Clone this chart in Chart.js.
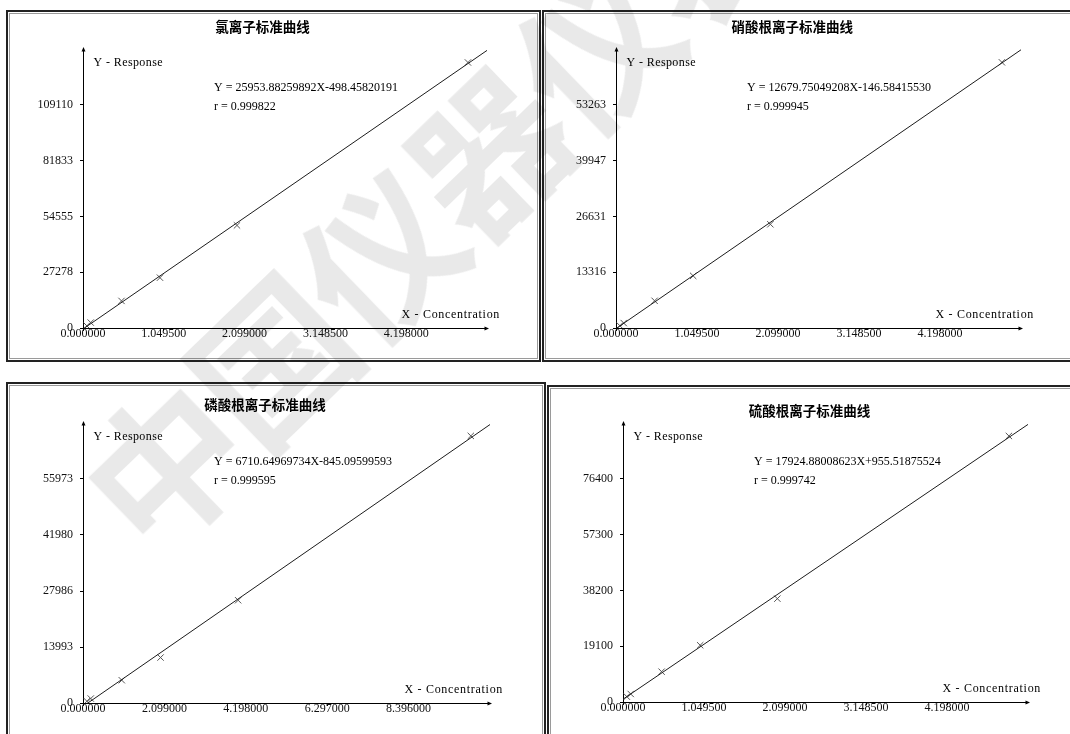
<!DOCTYPE html>
<html lang="zh-CN">
<head>
<meta charset="utf-8">
<title>阴离子标准曲线</title>
<script src="https://cdn.jsdelivr.net/npm/chart.js@4.4.1/dist/chart.umd.min.js"></script>
<style>
  html, body { margin: 0; padding: 0; background: #fff; }
  body { width: 1070px; height: 734px; position: relative; overflow: hidden; }
  .panel {
    position: absolute; box-sizing: border-box; background: #fff;
    border: 2px solid #222;
    box-shadow: inset 0 0 0 1px #fff, inset 0 0 0 2px #9a9a9a;
  }
  canvas { position: absolute; left: 0; top: 0; }
  .wm {
    position: absolute; white-space: nowrap; pointer-events: none;
    font-family: "Noto Sans CJK SC"; font-weight: 700;
    font-size: 155px; line-height: 155px; letter-spacing: -5px;
    color: rgba(0, 0, 0, 0.085);
    transform-origin: 0 50%; transform: rotate(-44deg);
  }
</style>
</head>
<body>
<div class="panel" style="left:6px;top:10px;width:535px;height:352px"></div>
<div class="panel" style="left:542px;top:10px;width:540px;height:352px"></div>
<div class="panel" style="left:6px;top:382px;width:540px;height:370px"></div>
<div class="panel" style="left:547px;top:385px;width:540px;height:370px"></div>

<canvas id="chart0" width="1070" height="734"></canvas>
<canvas id="chart1" width="1070" height="734"></canvas>
<canvas id="chart2" width="1070" height="734"></canvas>
<canvas id="chart3" width="1070" height="734"></canvas>

<div class="wm" style="left:104px;top:436px">中国仪器仪表网</div>

<script>
// 标准溶液浓度 (X) 与峰响应 (Y)
const clConc  = [0.05, 0.1, 0.5, 1, 2, 5];
const clResp  = [1050, 2660, 13240, 24600, 50160, 129800];
const no3Conc = [0.05, 0.1, 0.5, 1, 2, 5];
const no3Resp = [540, 1180, 6490, 12440, 24750, 63400];
const po4Conc = [0.1, 0.2, 1, 2, 4, 10];
const po4Resp = [440, 1115, 5690, 11360, 25680, 66740];
const so4Conc = [0.05, 0.1, 0.5, 1, 2, 5];
const so4Resp = [1820, 2750, 10380, 19420, 35370, 91060];

// 线性回归结果：Y = aX + b，相关系数 r
const fitSlope     = [25953.88259892, 12679.75049208, 6710.64969734, 17924.88008623];
const fitIntercept = [-498.45820191, -146.58415530, -845.09599593, 955.51875524];
const fitR         = [0.999822, 0.999945, 0.999595, 0.999742];

const curveTitles = ['氯离子标准曲线', '硝酸根离子标准曲线', '磷酸根离子标准曲线', '硫酸根离子标准曲线'];

// 坐标轴刻度
const xTicksA   = [0, 1.0495, 2.099, 3.1485, 4.198];
const xTicksB   = [0, 2.099, 4.198, 6.297, 8.396];
const yTicksCl  = [0, 27278, 54555, 81833, 109110];
const yTicksNo3 = [0, 13316, 26631, 39947, 53263];
const yTicksPo4 = [0, 13993, 27986, 41980, 55973];
const yTicksSo4 = [0, 19100, 38200, 57300, 76400];
const xAxisMax  = [5.2475, 5.2475, 10.495, 5.2475];
const yAxisMax  = [136388, 66579, 69966, 95500];
const axisNames = ['X - Concentration', 'Y - Response'];

const series = [
  { conc: clConc,  resp: clResp,  xTicks: xTicksA, yTicks: yTicksCl },
  { conc: no3Conc, resp: no3Resp, xTicks: xTicksA, yTicks: yTicksNo3 },
  { conc: po4Conc, resp: po4Resp, xTicks: xTicksB, yTicks: yTicksPo4 },
  { conc: so4Conc, resp: so4Resp, xTicks: xTicksA, yTicks: yTicksSo4 }
];

// 各图绘图区在页面中的位置（左、右、上、下）及标题中心
const frames = [
  { L: 83,  R: 487,  T: 49,  B: 328, titleX: 262.6, titleY: 27.3 },
  { L: 616, R: 1021, T: 49,  B: 328, titleX: 792.3, titleY: 27.3 },
  { L: 83,  R: 490,  T: 423, B: 703, titleX: 265,   titleY: 405 },
  { L: 623, R: 1028, T: 423, B: 702, titleX: 809.6, titleY: 410.7 }
];

const PAGE_W = 1070, PAGE_H = 734;
const Y_AXIS_W = 50;
const X_AXIS_H = 20;
const LATIN = '"Liberation Serif", "Times New Roman", serif';

function equationText(i) {
  const b = fitIntercept[i];
  return 'Y = ' + fitSlope[i].toFixed(8) + 'X' + (b < 0 ? '-' : '+') + Math.abs(b).toFixed(8);
}

// 标题、轴名称、回归方程、坐标轴箭头
const annotate = {
  id: 'annotate',
  afterDraw(chart, args, opts) {
    const { ctx, chartArea: a } = chart;
    ctx.save();
    ctx.fillStyle = '#000';
    ctx.textBaseline = 'middle';

    ctx.textAlign = 'center';
    ctx.font = 'bold 13.5px "Noto Sans CJK SC"';
    ctx.fillText(opts.title, opts.titleX, opts.titleY);

    ctx.textAlign = 'left';
    ctx.font = '12px ' + LATIN;
    ctx.letterSpacing = '0.4px';
    ctx.fillText(axisNames[1], a.left + 10.5, a.top + 14);
    ctx.letterSpacing = '0.7px';
    ctx.fillText(axisNames[0], a.right - 85.5, a.bottom - 13.5);
    ctx.letterSpacing = '0px';
    ctx.fillText(opts.equation, a.left + 131, a.top + 39);
    ctx.fillText(opts.rText, a.left + 131, a.top + 58);

    ctx.beginPath();
    ctx.moveTo(a.left + 0.5, a.top - 2);
    ctx.lineTo(a.left - 1.5, a.top + 2.5);
    ctx.lineTo(a.left + 2.5, a.top + 2.5);
    ctx.closePath();
    ctx.fill();
    ctx.beginPath();
    ctx.moveTo(a.right + 2, a.bottom + 0.5);
    ctx.lineTo(a.right - 2.5, a.bottom - 1.5);
    ctx.lineTo(a.right - 2.5, a.bottom + 2.5);
    ctx.closePath();
    ctx.fill();
    ctx.restore();
  }
};

function makeChart(i) {
  const s = series[i];
  const f = frames[i];
  const xMax = xAxisMax[i];
  const points = s.conc.map((c, k) => ({ x: c, y: s.resp[k] }));
  const fitLine = [
    { x: 0, y: fitIntercept[i] },
    { x: xMax, y: fitSlope[i] * xMax + fitIntercept[i] }
  ];

  new Chart(document.getElementById('chart' + i), {
    type: 'scatter',
    data: {
      datasets: [
        {
          data: fitLine, showLine: true, borderColor: '#1c1c1c', borderWidth: 1,
          pointRadius: 0, pointHoverRadius: 0
        },
        {
          data: points, showLine: false, pointStyle: 'crossRot', pointRadius: 4.5,
          pointBorderColor: '#555', pointBackgroundColor: '#555', pointBorderWidth: 1
        }
      ]
    },
    options: {
      responsive: false,
      animation: false,
      devicePixelRatio: 1,
      events: [],
      layout: {
        padding: {
          left: f.L - Y_AXIS_W,
          right: PAGE_W - f.R,
          top: f.T,
          bottom: PAGE_H - f.B - X_AXIS_H
        }
      },
      plugins: {
        legend: { display: false },
        tooltip: { enabled: false },
        title: { display: false },
        annotate: {
          title: curveTitles[i], titleX: f.titleX, titleY: f.titleY,
          equation: equationText(i), rText: 'r = ' + fitR[i].toFixed(6)
        }
      },
      scales: {
        x: {
          type: 'linear', min: 0, max: xMax, bounds: 'data',
          afterBuildTicks: (axis) => { axis.ticks = s.xTicks.map(v => ({ value: v })); },
          afterFit: (axis) => { axis.height = X_AXIS_H; },
          grid: { display: true, drawOnChartArea: false, drawTicks: true, tickLength: 3, color: '#000' },
          border: { display: true, color: '#000', width: 1 },
          ticks: {
            autoSkip: false, maxRotation: 0, padding: -3, color: '#111',
            font: { family: LATIN, size: 12, lineHeight: 1 },
            callback: (v) => Number(v).toFixed(6)
          }
        },
        y: {
          type: 'linear', min: 0, max: yAxisMax[i], bounds: 'data',
          afterBuildTicks: (axis) => { axis.ticks = s.yTicks.map(v => ({ value: v })); },
          afterFit: (axis) => { axis.width = Y_AXIS_W; },
          grid: { display: true, drawOnChartArea: false, drawTicks: true, tickLength: 3, color: '#000' },
          border: { display: true, color: '#000', width: 1 },
          ticks: {
            autoSkip: false, padding: 7, color: '#111',
            font: { family: LATIN, size: 12, lineHeight: 1 },
            callback: (v) => String(v)
          }
        }
      }
    },
    plugins: [annotate]
  });
}

for (let i = 0; i < 4; i++) makeChart(i);
</script>
</body>
</html>
